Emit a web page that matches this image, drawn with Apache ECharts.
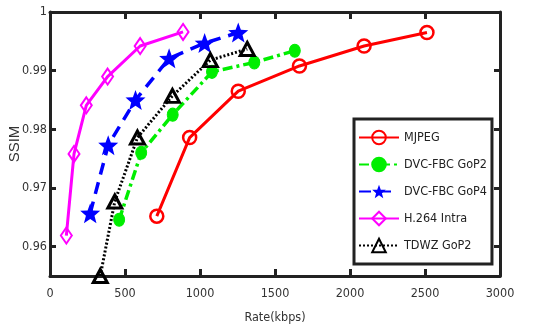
<!DOCTYPE html>
<html><head><meta charset="utf-8">
<script src="https://cdn.jsdelivr.net/npm/echarts@6/dist/echarts.min.js"></script>
<style>html,body{margin:0;padding:0;background:#fff}#c{width:545px;height:330px}</style>
</head><body><div id="c"></div>
<script>
const xTicks = [0, 500, 1000, 1500, 2000, 2500, 3000];
const yTicks = [0.96, 0.97, 0.98, 0.99, 1];
const seriesNames = ['MJPEG', 'DVC-FBC GoP2', 'DVC-FBC GoP4', 'H.264 Intra', 'TDWZ GoP2'];
const mjpeg = [[712, 0.9652], [931, 0.9786], [1255, 0.9865], [1663, 0.9908], [2094, 0.9942], [2513, 0.9965]];
const dvc2 = [[461, 0.9646], [608, 0.9760], [818, 0.9825], [1080, 0.9898], [1362, 0.9914], [1632, 0.9934]];
const dvc4 = [[268, 0.9657], [388, 0.9773], [570, 0.9850], [794, 0.9921], [1031, 0.9947], [1255, 0.9965]];
const h264 = [[109, 0.9619], [160, 0.9758], [242, 0.9841], [384, 0.9890], [601, 0.9942], [887, 0.9966]];
const tdwz = [[335, 0.9550], [432, 0.9677], [583, 0.9786], [816, 0.9857], [1069, 0.9918], [1315, 0.9937]];

const FONT = '"DejaVu Sans Condensed", "Liberation Sans", Arial, sans-serif';
const FONT2 = '"Liberation Sans", Arial, sans-serif';
const STAR = 'path://M12,1 L14.9,8.6 L23,8.9 L16.7,14 L18.9,21.8 L12,17.3 L5.1,21.8 L7.3,14 L1,8.9 L9.1,8.6 Z';
const AX = '#222';

const chart = echarts.init(document.getElementById('c'), null, {renderer: 'canvas'});
const baseX = {
  type: 'value', min: 0, max: 3000, interval: 500,
  axisLine: {show: true, onZero: false, lineStyle: {color: AX, width: 3}},
  axisTick: {show: true, inside: true, length: 7, lineStyle: {color: AX, width: 3}},
  splitLine: {show: false}
};
const baseY = {
  type: 'value', min: 0.955, max: 1,
  axisLine: {show: true, onZero: false, lineStyle: {color: AX, width: 3}},
  axisTick: {show: true, inside: true, length: 6, customValues: yTicks, lineStyle: {color: AX, width: 3}},
  splitLine: {show: false}
};
chart.setOption({
  animation: false,
  textStyle: {fontFamily: FONT},
  grid: {left: 50, right: 45, top: 12, bottom: 54, containLabel: false, outerBoundsMode: 'none'},
  xAxis: [
    Object.assign({}, baseX, {
      position: 'bottom',
      name: 'Rate(kbps)', nameLocation: 'middle', nameGap: 35, nameMoveOverlap: false,
      nameTextStyle: {fontFamily: FONT, fontSize: 12.5, color: '#333'},
      axisLabel: {show: true, margin: 11, fontFamily: FONT, fontSize: 12.5, color: '#333', formatter: v => String(v)}
    }),
    Object.assign({}, baseX, {position: 'top', axisLabel: {show: false}})
  ],
  yAxis: [
    Object.assign({}, baseY, {
      position: 'left',
      name: 'SSIM', nameLocation: 'middle', nameGap: 28, nameMoveOverlap: false,
      nameTextStyle: {fontFamily: FONT2, fontSize: 15, color: '#333'},
      axisLabel: {show: true, margin: 3, customValues: yTicks, fontFamily: FONT, fontSize: 12.5, color: '#333',
        formatter: v => (Math.abs(v - 1) < 1e-9 ? '1' : v.toFixed(2))}
    }),
    Object.assign({}, baseY, {position: 'right', axisLabel: {show: false}})
  ],
  legend: {
    orient: 'vertical', left: 354, top: 119,
    backgroundColor: '#fff', borderColor: AX, borderWidth: 3,
    padding: [10, 5, 10, 4],
    itemWidth: 40, itemHeight: 17, itemGap: 10,
    textStyle: {fontFamily: FONT, fontSize: 12.5, color: '#222', lineHeight: 17},
    data: seriesNames
  },
  series: [
    {name: seriesNames[0], type: 'line', data: mjpeg, symbol: 'circle', symbolSize: 13,
      lineStyle: {color: '#ff0000', width: 3},
      itemStyle: {color: 'rgba(255,255,255,0)', borderColor: '#ff0000', borderWidth: 2.5}},
    {name: seriesNames[1], type: 'line', data: dvc2, symbol: 'circle', symbolSize: [11, 13],
      lineStyle: {color: '#00ee00', width: 3.5, type: [10, 4, 3, 4]},
      itemStyle: {color: '#00ee00', borderColor: '#00ee00', borderWidth: 1}},
    {name: seriesNames[2], type: 'line', data: dvc4, symbol: STAR, symbolSize: 20,
      lineStyle: {color: '#0000ff', width: 3.5, type: [12, 8]},
      itemStyle: {color: '#0000ff', borderColor: '#0000ff', borderWidth: 0}},
    {name: seriesNames[3], type: 'line', data: h264, symbol: 'diamond', symbolSize: [11, 16],
      lineStyle: {color: '#ff00ff', width: 3},
      itemStyle: {color: 'rgba(255,255,255,0)', borderColor: '#ff00ff', borderWidth: 2}},
    {name: seriesNames[4], type: 'line', data: tdwz, symbol: 'triangle', symbolSize: [14, 13],
      lineStyle: {color: '#000', width: 3, type: [2, 2]},
      itemStyle: {color: 'rgba(255,255,255,0)', borderColor: '#000', borderWidth: 3}}
  ]
});
</script></body></html>
